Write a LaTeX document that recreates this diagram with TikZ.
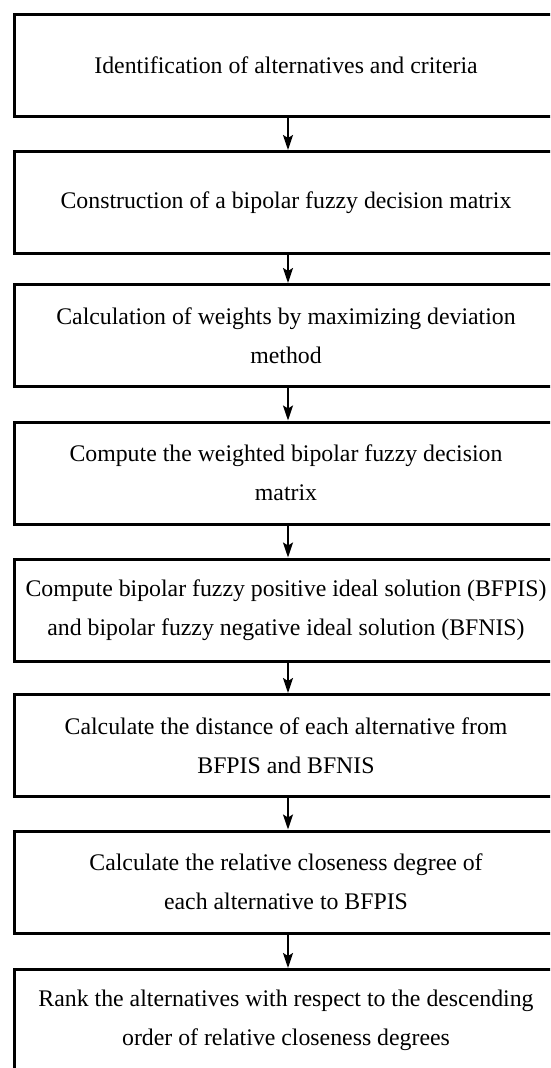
\documentclass[tikz,border=0pt]{standalone}
\usepackage{fontspec}
\setmainfont{Liberation Serif}
\usetikzlibrary{arrows.meta}
\begin{document}
\begin{tikzpicture}[x=1pt,y=-1pt,
  stagebox/.style={draw, line width=3pt, minimum width=543pt, minimum height=102pt,
    align=center, font=\fontsize{23.8}{39}\selectfont, inner sep=0pt},
  flowarrow/.style={line width=2pt, -{Stealth[length=15pt,width=10pt,inset=3pt]}}]
\useasboundingbox (0,0) rectangle (550,1068);
\clip (0,0) rectangle (550,1068);
\fill[white] (0,0) rectangle (550,1068);
\node[stagebox] (b1) at (286,65) {Identification of alternatives and criteria};
\node[stagebox] (b2) at (286,202.5) {Construction of a bipolar fuzzy decision matrix};
\node[stagebox] (b3) at (286,335.5) {Calculation of weights by maximizing deviation\\method};
\node[stagebox] (b4) at (286,473) {Compute the weighted bipolar fuzzy decision\\matrix};
\node[stagebox] (b5) at (286,610) {Compute bipolar fuzzy positive ideal solution (BFPIS)\\and bipolar fuzzy negative ideal solution (BFNIS)};
\node[stagebox] (b6) at (286,745.5) {Calculate the distance of each alternative from\\BFPIS and BFNIS};
\node[stagebox] (b7) at (286,882) {Calculate the relative closeness degree of\\each alternative to BFPIS};
\node[stagebox] (b8) at (286,1020.5) {Rank the alternatives with respect to the descending\\order of relative closeness degrees};

\draw[flowarrow] ([xshift=2pt]b1.south) -- ([xshift=2pt]b2.north);
\draw[flowarrow] ([xshift=2pt]b2.south) -- ([xshift=2pt]b3.north);
\draw[flowarrow] ([xshift=2pt]b3.south) -- ([xshift=2pt]b4.north);
\draw[flowarrow] ([xshift=2pt]b4.south) -- ([xshift=2pt]b5.north);
\draw[flowarrow] ([xshift=2pt]b5.south) -- ([xshift=2pt]b6.north);
\draw[flowarrow] ([xshift=2pt]b6.south) -- ([xshift=2pt]b7.north);
\draw[flowarrow] ([xshift=2pt]b7.south) -- ([xshift=2pt]b8.north);
\end{tikzpicture}
\end{document}
